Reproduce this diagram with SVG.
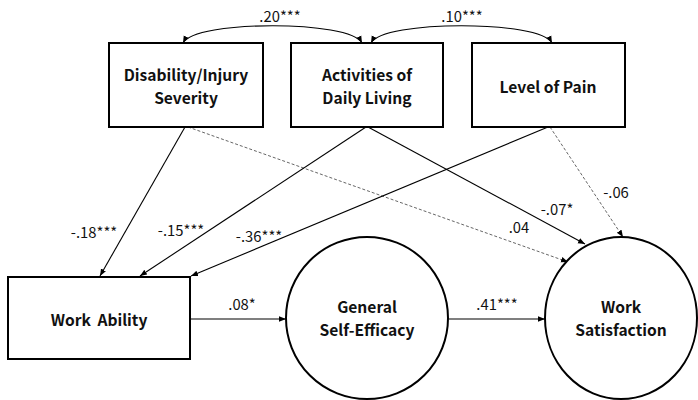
<svg xmlns="http://www.w3.org/2000/svg" width="698" height="400" viewBox="0 0 698 400">
<style>
.box{fill:#fff;stroke:#000;stroke-width:2}
.nt{font-family:"Noto Sans CJK KR","Noto Sans",sans-serif;font-weight:bold;font-size:15.6px;fill:#111;text-anchor:middle}
.lb{font-family:"Noto Sans CJK KR","Noto Sans",sans-serif;font-size:14.8px;fill:#111;text-anchor:middle}
.ln{fill:none;stroke:#000;stroke-width:1.1}
.dl{fill:none;stroke:#555;stroke-width:0.9;stroke-dasharray:3 2}
</style>
<defs>
<marker id="ah" viewBox="0 0 10 10" refX="10" refY="5" markerWidth="7" markerHeight="7" orient="auto-start-reverse" markerUnits="userSpaceOnUse">
<path d="M0,1 L10,5 L0,9 z" fill="#000"/>
</marker>
</defs>
<g id="connectors">
<path class="ln" d="M183,43 C195,20 350,20 362,43" marker-start="url(#ah)" marker-end="url(#ah)"/>
<path class="ln" d="M371,43 C383,20 540,20 552,43" marker-start="url(#ah)" marker-end="url(#ah)"/>
<line class="ln" x1="185" y1="127" x2="100" y2="276" marker-end="url(#ah)"/>
<line class="dl" x1="188" y1="127" x2="568" y2="262" marker-end="url(#ah)"/>
<line class="ln" x1="366" y1="127" x2="140" y2="276" marker-end="url(#ah)"/>
<line class="ln" x1="368" y1="127" x2="585" y2="244" marker-end="url(#ah)"/>
<line class="ln" x1="548" y1="127" x2="191" y2="276" marker-end="url(#ah)"/>
<line class="dl" x1="550" y1="127" x2="623" y2="237" marker-end="url(#ah)"/>
<line class="ln" x1="190" y1="319" x2="286" y2="319" marker-end="url(#ah)"/>
<line class="ln" x1="449" y1="319" x2="545" y2="319" marker-end="url(#ah)"/>
<text class="lb" x="280" y="22">.20***</text>
<text class="lb" x="462" y="22">.10***</text>
<text class="lb" x="94" y="238">-.18***</text>
<text class="lb" x="181" y="236">-.15***</text>
<text class="lb" x="259" y="242">-.36***</text>
<text class="lb" x="557" y="215">-.07*</text>
<text class="lb" x="519" y="233">.04</text>
<text class="lb" x="616" y="198">-.06</text>
<text class="lb" x="242" y="310">.08*</text>
<text class="lb" x="497" y="310">.41***</text>
</g>
<g id="disability">
<rect class="box" x="109" y="43" width="154" height="84"/>
<text class="nt" x="186" y="80.5">Disability/Injury</text>
<text class="nt" x="186" y="103.5">Severity</text>
</g>
<g id="adl">
<rect class="box" x="291" y="43" width="152" height="84"/>
<text class="nt" x="367" y="80.5">Activities of</text>
<text class="nt" x="367" y="103.5">Daily Living</text>
</g>
<g id="pain">
<rect class="box" x="472" y="43" width="153" height="84"/>
<text class="nt" x="548" y="93">Level of Pain</text>
</g>
<g id="workability">
<rect class="box" x="8" y="277" width="182" height="82"/>
<text class="nt" x="99" y="326" word-spacing="3">Work Ability</text>
</g>
<g id="selfefficacy">
<ellipse class="box" cx="367" cy="318" rx="81" ry="81"/>
<text class="nt" x="367" y="313">General</text>
<text class="nt" x="367" y="336">Self-Efficacy</text>
</g>
<g id="worksatisfaction">
<ellipse class="box" cx="621" cy="318" rx="76" ry="81"/>
<text class="nt" x="621" y="313">Work</text>
<text class="nt" x="621" y="336">Satisfaction</text>
</g>
</svg>
